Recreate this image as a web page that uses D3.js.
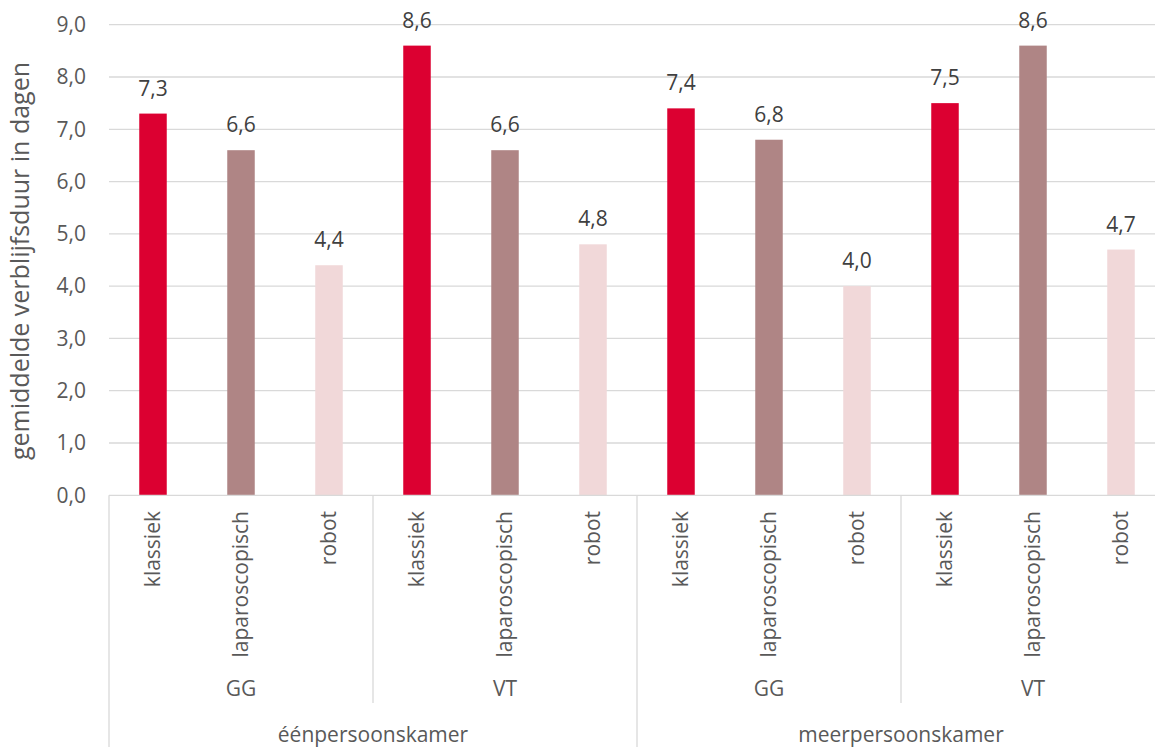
<!DOCTYPE html>
<html>
<head>
<meta charset="utf-8">
<script src="https://cdn.jsdelivr.net/npm/d3@7"></script>
<style>
  html, body { margin: 0; padding: 0; background: #fff; }
  svg { display: block; }
  text { font-family: "Open Sans", "Noto Sans", sans-serif; }
</style>
</head>
<body>
<svg id="chart" width="1155" height="747"></svg>
<script>
// Average length of stay (days) by room type, hospital group and surgical technique
const roomTypes = ["éénpersoonskamer", "meerpersoonskamer"];
const groups = ["GG", "VT"];
const techniques = ["klassiek", "laparoscopisch", "robot"];
const techniqueColors = ["#DC0031", "#AF8585", "#F1D8D9"];

// values per room type -> group -> technique
const eenpersoons_GG = [7.3, 6.6, 4.4];
const eenpersoons_VT = [8.6, 6.6, 4.8];
const meerpersoons_GG = [7.4, 6.8, 4.0];
const meerpersoons_VT = [7.5, 8.6, 4.7];

const yTicks = [0, 1, 2, 3, 4, 5, 6, 7, 8, 9];
const yTitle = "gemiddelde verblijfsduur in dagen";

const valueSets = [[eenpersoons_GG, eenpersoons_VT], [meerpersoons_GG, meerpersoons_VT]];
const rows = [];
roomTypes.forEach((room, ri) => {
  groups.forEach((grp, gi) => {
    techniques.forEach((tech, ti) => {
      rows.push({
        key: room + "|" + grp + "|" + tech,
        room, grp, tech, ti,
        value: valueSets[ri][gi][ti]
      });
    });
  });
});

const svg = d3.select("#chart");
const plotLeft = 109, plotRight = 1165, plotTop = 24.7, plotBottom = 495.3;

const x = d3.scaleBand()
  .domain(rows.map(d => d.key))
  .range([plotLeft, plotRight])
  .paddingInner(0.6875)
  .paddingOuter(0.34375);
const step = x.step();

const y = d3.scaleLinear().domain([0, 9]).range([plotBottom, plotTop]);
const fmt = v => d3.format(".1f")(v).replace(".", ",");

const textColor = "#595959";
const gridColor = "#D9D9D9";
const fs = "21px";

// horizontal gridlines
svg.append("g")
  .selectAll("line")
  .data(yTicks.filter(t => t > 0))
  .join("line")
  .attr("x1", plotLeft).attr("x2", plotRight)
  .attr("y1", d => y(d)).attr("y2", d => y(d))
  .attr("stroke", gridColor).attr("stroke-width", 1.3);

// y axis tick labels
const yAxis = d3.axisLeft(y).tickValues(yTicks).tickFormat(fmt).tickSize(0).tickPadding(23);
const yg = svg.append("g").attr("transform", `translate(${plotLeft},0)`).call(yAxis);
yg.select(".domain").remove();
yg.selectAll("text").attr("fill", textColor).style("font-size", fs)
  .style("font-family", "'Open Sans', sans-serif");

// y axis title
svg.append("text")
  .attr("transform", `translate(28.5,261) rotate(-90)`)
  .attr("text-anchor", "middle")
  .attr("fill", textColor)
  .style("font-size", "25px")
  .text(yTitle);

// bars
svg.append("g")
  .selectAll("rect")
  .data(rows)
  .join("rect")
  .attr("x", d => x(d.key))
  .attr("width", x.bandwidth())
  .attr("y", d => y(d.value))
  .attr("height", d => y(0) - y(d.value))
  .attr("fill", d => techniqueColors[d.ti]);

// value labels
svg.append("g")
  .selectAll("text")
  .data(rows)
  .join("text")
  .attr("x", d => x(d.key) + x.bandwidth() / 2)
  .attr("y", d => y(d.value) - 18)
  .attr("text-anchor", "middle")
  .attr("fill", "#404040")
  .style("font-size", fs)
  .text(d => fmt(d.value));

// category axis baseline
svg.append("line")
  .attr("x1", plotLeft).attr("x2", plotRight)
  .attr("y1", plotBottom).attr("y2", plotBottom)
  .attr("stroke", gridColor).attr("stroke-width", 1.3);

// technique labels (rotated)
svg.append("g")
  .selectAll("text")
  .data(rows)
  .join("text")
  .attr("transform", d => `translate(${x(d.key) + x.bandwidth() / 2},511) rotate(-90)`)
  .attr("text-anchor", "end")
  .attr("dy", "0.35em")
  .attr("fill", textColor)
  .style("font-size", fs)
  .text(d => d.tech);

// group level labels and separators
const groupRows = [];
roomTypes.forEach((room, ri) => groups.forEach((grp, gi) => groupRows.push({ room, grp, idx: ri * groups.length + gi })));
const groupWidth = step * techniques.length;
const roomWidth = groupWidth * groups.length;

svg.append("g")
  .selectAll("text")
  .data(groupRows)
  .join("text")
  .attr("x", d => plotLeft + d.idx * groupWidth + groupWidth / 2)
  .attr("y", 696)
  .attr("text-anchor", "middle")
  .attr("fill", textColor)
  .style("font-size", fs)
  .text(d => d.grp);

// group separators (short)
svg.append("g")
  .selectAll("line")
  .data(d3.range(1, groupRows.length + 1).filter(i => i % groups.length !== 0))
  .join("line")
  .attr("x1", i => plotLeft + i * groupWidth).attr("x2", i => plotLeft + i * groupWidth)
  .attr("y1", plotBottom).attr("y2", 703)
  .attr("stroke", gridColor).attr("stroke-width", 1.3);

// room type separators (full height)
svg.append("g")
  .selectAll("line")
  .data(d3.range(0, roomTypes.length + 1))
  .join("line")
  .attr("x1", i => plotLeft + i * roomWidth).attr("x2", i => plotLeft + i * roomWidth)
  .attr("y1", plotBottom).attr("y2", 747)
  .attr("stroke", gridColor).attr("stroke-width", 1.3);

// room type labels
svg.append("g")
  .selectAll("text")
  .data(roomTypes)
  .join("text")
  .attr("x", (d, i) => plotLeft + i * roomWidth + roomWidth / 2)
  .attr("y", 742)
  .attr("text-anchor", "middle")
  .attr("fill", textColor)
  .style("font-size", fs)
  .text(d => d);
</script>
</body>
</html>
